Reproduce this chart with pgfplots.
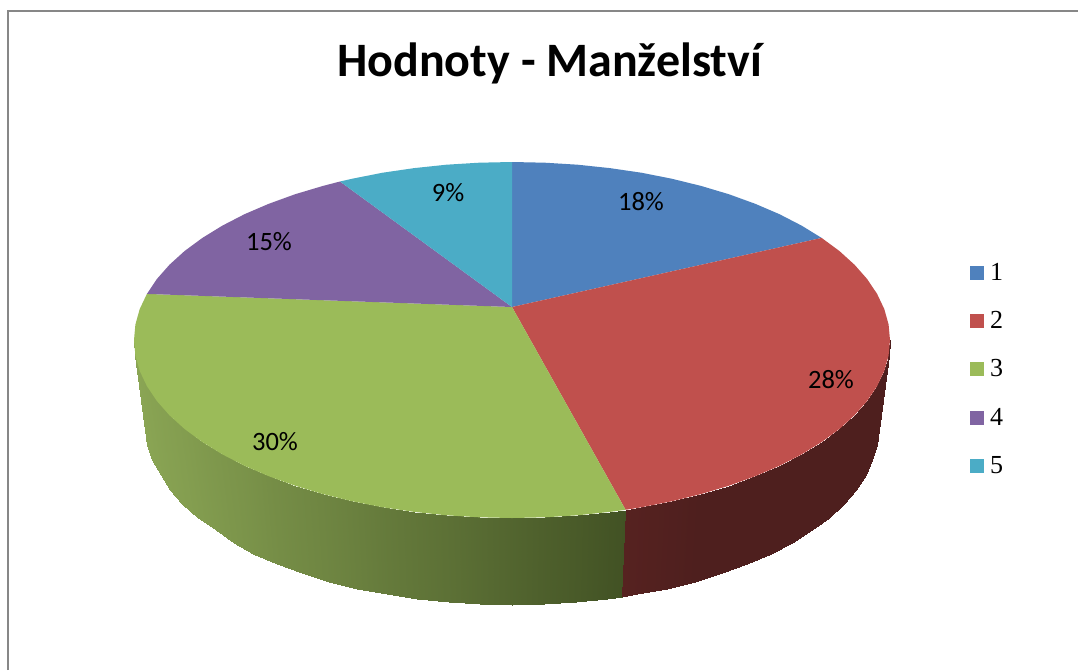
\documentclass[border=0pt]{standalone}
\usepackage{fontspec}
\setmainfont{Carlito}
\newfontfamily\legfont{Liberation Serif}
\usepackage{pgfplots}
\usepackage{pgfplotstable}
\pgfplotsset{compat=1.18}
\definecolor{pieblue}{HTML}{4F81BD}
\definecolor{piered}{HTML}{C0504D}
\definecolor{piegreen}{HTML}{9BBB59}
\definecolor{piepurple}{HTML}{8064A2}
\definecolor{pieteal}{HTML}{4BACC6}
\definecolor{framegray}{RGB}{135,135,135}
\pgfplotstableread{
x y m
622 596.9 0
606.7 599 0.03
575.5 602.3 0.10
543.9 604.3 0.16
512 605 0.23
480.1 604.3 0.30
448.5 602.3 0.37
417.3 599 0.43
386.8 594.4 0.49
357.3 588.6 0.56
329 581.6 0.62
302.1 573.4 0.67
276.7 564 0.72
253.2 553.7 0.78
234 542.5 0.82
216 530.4 0.86
198 517.5 0.90
182 504 0.93
170 489.9 0.95
160.5 475.3 0.97
152 460.4 0.99
147.4 445.3 1
146 430 1
625.6 509.8 0
609.8 511.9 0.03
577.6 515.3 0.10
545 517.3 0.16
512 518 0.23
479 517.3 0.30
446.4 515.3 0.37
414.2 511.9 0.43
382.7 507.3 0.49
352.3 501.3 0.56
323 494.1 0.62
295.2 485.8 0.67
269 476.3 0.72
244.7 465.9 0.78
222.4 454.4 0.82
202.4 442.1 0.86
184.6 429 0.90
169.4 415.2 0.93
156.8 400.9 0.95
146.9 386.1 0.97
139.7 370.9 0.99
135.4 355.5 1
134 340 1
}\greenside
\pgfplotstableread{
x y m
622 596.9 1
637.2 594.4 0.8
666.7 588.6 0.4
695 581.6 0
721.9 573.4 0
747.3 564 0
770.8 553.7 0
792.4 542.5 0
811.8 530.4 0
829 517.5 0
843.7 504 0
855.9 489.9 0
865.5 475.3 0
872.4 460.4 0
876.6 445.3 0
878.5 430 0
625.6 509.8 1
641.3 507.3 0.8
671.7 501.3 0.4
701 494.1 0
728.8 485.8 0
755 476.3 0
779.3 465.9 0
801.6 454.4 0
821.6 442.1 0
839.4 429 0
854.6 415.2 0
867.2 400.9 0
877.1 386.1 0
884.3 370.9 0
888.6 355.5 0
890 340 0
}\redside
\begin{document}
\begin{tikzpicture}
\path[use as bounding box] (0,0) rectangle (1078pt,670pt);
\begin{axis}[
  scale only axis, width=1078pt, height=670pt,
  xmin=0, xmax=1078, ymin=0, ymax=670, y dir=reverse,
  hide axis, clip=false,
  title={Hodnoty - Manželství},
  title style={at={(axis cs:549.5,82)}, anchor=base, font=\fontsize{48}{54}\selectfont\bfseries, inner sep=0pt},
  colormap={sidered}{rgb255=(78,31,30) rgb255=(86,34,32)},
  colormap={sidegreen}{rgb255=(66,82,36) rgb255=(138,165,84)},
  point meta min=0, point meta max=1,
  legend cell align=left,
  legend image code/.code={\fill[#1] (0pt,-7pt) rectangle (14pt,7pt);\path (18pt,0pt);},
  legend style={draw=none, fill=none, at={(axis cs:970,272)}, anchor=north west,
    yshift=9pt, font=\legfont\fontsize{26}{26}\selectfont,
    row sep=29.3pt, inner sep=0pt,
    nodes={inner sep=2pt, text height=15pt, text depth=0pt}},
]
\addplot[draw=framegray, line width=1.6pt, forget plot] coordinates {(7.8,670)(7.8,10.8)(1078,10.8)};
% sides
\addplot[surf, shader=interp, colormap name=sidegreen, mesh/rows=2, point meta=explicit, forget plot] table[x=x,y=y,meta=m] {\greenside};
\addplot[surf, shader=interp, colormap name=sidered, mesh/rows=2, point meta=explicit, forget plot] table[x=x,y=y,meta=m] {\redside};
% top face
\addplot[fill=pieblue, draw=none] coordinates {
(512,307)(512,162)(545,162.7)(577.6,164.7)(609.8,168.1)(641.3,172.7)(671.7,178.7)(701,185.9)(728.8,194.2)(755,203.7)(779.3,214.1)(801.6,225.6)(821.6,237.9)} --cycle;
\addlegendentry{1}
\addplot[fill=piered, draw=none] coordinates {
(512,307)(821.6,237.9)(839.4,251)(854.6,264.8)(867.2,279.1)(877.1,293.9)(884.3,309.1)(888.6,324.5)(890,340)(888.6,355.5)(884.3,370.9)(877.1,386.1)(867.2,400.9)(854.6,415.2)(839.4,429)(821.6,442.1)(801.6,454.4)(779.3,465.9)(755,476.3)(728.8,485.8)(701,494.1)(671.7,501.3)(641.3,507.3)(625.6,509.8)} --cycle;
\addlegendentry{2}
\addplot[fill=piegreen, draw=none] coordinates {
(512,307)(625.6,509.8)(609.8,511.9)(577.6,515.3)(545,517.3)(512,518)(479,517.3)(446.4,515.3)(414.2,511.9)(382.7,507.3)(352.3,501.3)(323,494.1)(295.2,485.8)(269,476.3)(244.7,465.9)(222.4,454.4)(202.4,442.1)(184.6,429)(169.4,415.2)(156.8,400.9)(146.9,386.1)(139.7,370.9)(135.4,355.5)(134,340)(135.4,324.5)(139.7,309.1)(146.9,293.9)} --cycle;
\addlegendentry{3}
\addplot[fill=piepurple, draw=none] coordinates {
(512,307)(146.9,293.9)(156.8,279.1)(169.4,264.8)(184.6,251)(202.4,237.9)(222.4,225.6)(244.7,214.1)(269,203.7)(295.2,194.2)(323,185.9)(340,181.5)} --cycle;
\addlegendentry{4}
\addplot[fill=pieteal, draw=none] coordinates {
(512,307)(340,181.5)(352.3,178.7)(382.7,172.7)(414.2,168.1)(446.4,164.7)(479,162.7)(512,162)} --cycle;
\addlegendentry{5}
\node[font=\fontsize{26.5}{30}\selectfont] at (axis cs:641,202) {18\%};
\node[font=\fontsize{26.5}{30}\selectfont] at (axis cs:831,380) {28\%};
\node[font=\fontsize{26.5}{30}\selectfont] at (axis cs:275,442) {30\%};
\node[font=\fontsize{26.5}{30}\selectfont] at (axis cs:269,242) {15\%};
\node[font=\fontsize{26.5}{30}\selectfont] at (axis cs:448,193) {9\%};
\end{axis}
\end{tikzpicture}
\end{document}
